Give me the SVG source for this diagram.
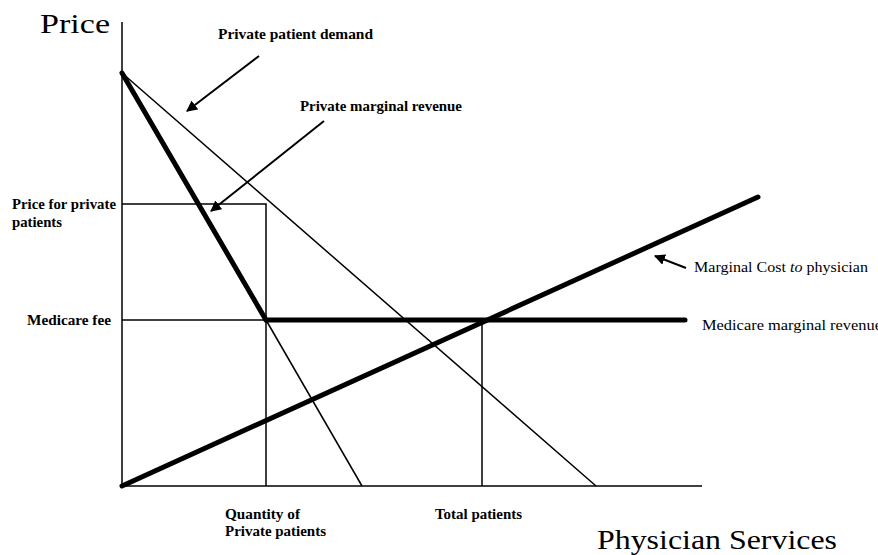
<svg xmlns="http://www.w3.org/2000/svg" width="878" height="555" viewBox="0 0 878 555">
<style>
.big{font-family:"Liberation Serif",serif;font-size:28px;fill:#000}
.lbl{font-family:"Liberation Serif",serif;font-size:14px;font-weight:bold;fill:#000}
.lbr{font-family:"Liberation Serif",serif;font-size:15px;fill:#000}
.thin{stroke:#000;stroke-width:1.5;fill:none}
.thick{stroke:#000;stroke-width:5;fill:none;stroke-linecap:round}
.arr{stroke:#000;stroke-width:2;fill:none;marker-end:url(#ah)}
</style>
<defs>
<marker id="ah" viewBox="0 0 10 10" refX="9" refY="5" markerWidth="5.5" markerHeight="5.5" orient="auto">
<path d="M0,0 L10,5 L0,10 z" fill="#000"/>
</marker>
</defs>
<rect width="878" height="555" fill="#fff"/>
<g id="axes">
<line class="thin" x1="122" y1="22" x2="122" y2="487"/>
<line class="thin" x1="122" y1="486" x2="702" y2="486"/>
<text class="big" x="40" y="33" textLength="70" lengthAdjust="spacingAndGlyphs">Price</text>
<text class="big" x="597" y="549" textLength="240" lengthAdjust="spacingAndGlyphs">Physician Services</text>
</g>
<g id="guides">
<polyline class="thin" points="122,204 266,204 266,486"/>
<line class="thin" x1="122" y1="320" x2="266" y2="320"/>
<line class="thin" x1="482" y1="320" x2="482" y2="486"/>
<text class="lbl" x="12" y="209" textLength="104" lengthAdjust="spacingAndGlyphs">Price for private</text>
<text class="lbl" x="12" y="227" textLength="50" lengthAdjust="spacingAndGlyphs">patients</text>
<text class="lbl" x="27" y="325" textLength="84" lengthAdjust="spacingAndGlyphs">Medicare fee</text>
<text class="lbl" x="225" y="519" textLength="75" lengthAdjust="spacingAndGlyphs">Quantity of</text>
<text class="lbl" x="225" y="536" textLength="101" lengthAdjust="spacingAndGlyphs">Private patients</text>
<text class="lbl" x="435" y="519" textLength="87" lengthAdjust="spacingAndGlyphs">Total patients</text>
</g>
<g id="demand">
<line class="thin" x1="122" y1="73" x2="596" y2="486"/>
<text class="lbl" x="218" y="39" textLength="155" lengthAdjust="spacingAndGlyphs">Private patient demand</text>
</g>
<g id="private-mr">
<line class="thick" x1="122" y1="73" x2="266" y2="320"/>
<line class="thin" x1="266" y1="320" x2="362" y2="486"/>
<text class="lbl" x="300" y="111" textLength="162" lengthAdjust="spacingAndGlyphs">Private marginal revenue</text>
</g>
<g id="medicare-mr">
<line class="thick" x1="266" y1="320" x2="685" y2="320"/>
<text class="lbr" x="702" y="330" textLength="180" lengthAdjust="spacingAndGlyphs">Medicare marginal revenue</text>
</g>
<g id="marginal-cost">
<line class="thick" x1="122" y1="486" x2="758" y2="197"/>
<text class="lbr" x="694" y="272" textLength="174" lengthAdjust="spacingAndGlyphs">Marginal Cost <tspan font-style="italic">to</tspan> physician</text>
</g>
<g id="connectors">
<line class="arr" x1="259" y1="56" x2="187" y2="111"/>
<line class="arr" x1="324" y1="121" x2="211" y2="211"/>
<line class="arr" x1="686" y1="268" x2="655" y2="256"/>
</g>
</svg>
